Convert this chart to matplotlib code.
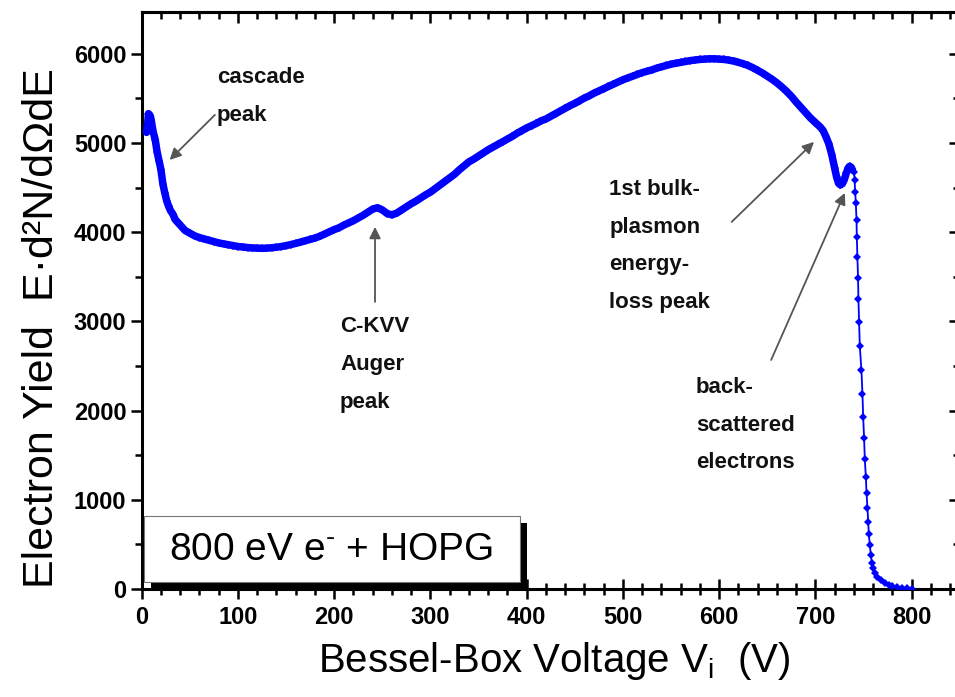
"""
Electron yield spectrum of 800 eV electrons on HOPG measured with the
Bessel-box analyser, with the main spectral features labelled.

Output:
    out.png
"""

import matplotlib

matplotlib.use("Agg")

import matplotlib.pyplot as plt
import numpy as np
from matplotlib.patches import Rectangle
from matplotlib.ticker import MultipleLocator


# Measured spectrum: Bessel-box voltage (V) and yield E*d2N/dOmega dE
VOLTAGE = [
    5, 6, 7, 8, 9, 10, 11, 12, 14, 16, 18, 20, 22, 24, 26, 28, 30, 32, 35,
    40, 45, 50, 55, 60, 65, 70, 75, 80, 85, 90, 95, 100, 105, 110, 115,
    120, 125, 130, 135, 140, 145, 150, 155, 160, 165, 170, 175, 180, 185,
    190, 195, 200, 205, 210, 215, 220, 225, 230, 235, 240, 245, 250, 255,
    260, 265, 270, 275, 280, 285, 290, 295, 300, 305, 310, 315, 320, 325,
    330, 335, 340, 345, 350, 355, 360, 365, 370, 375, 380, 385, 390, 395,
    400, 405, 410, 415, 420, 425, 430, 435, 440, 445, 450, 455, 460, 465,
    470, 475, 480, 485, 490, 495, 500, 505, 510, 515, 520, 525, 530, 535,
    540, 545, 550, 555, 560, 565, 570, 575, 580, 585, 590, 595, 600, 605,
    610, 615, 620, 625, 630, 635, 640, 645, 650, 655, 660, 665, 670, 675,
    680, 685, 690, 695, 700, 705, 708, 711, 714, 717, 720, 722, 724, 726,
    728, 730, 732, 734, 735.5, 737, 738.5,
    740.2, 740.7, 741.3, 742.0, 742.7, 743.0, 743.7, 744.3, 744.7, 745.4,
    746.1, 747.8, 748.9, 749.6, 750.6, 751.3, 752.4, 753.1, 754.1, 754.8,
    755.5, 756.5, 757.6, 758.6, 760.0, 761.7, 764.5, 768, 772, 776, 780,
    785, 790, 795, 800,
]
YIELD = [
    5120, 5200, 5330, 5320, 5300, 5250, 5180, 5120, 5040, 4900, 4800, 4700,
    4540, 4440, 4350, 4290, 4240, 4210, 4140, 4080, 4020, 3990, 3960, 3940,
    3925, 3910, 3895, 3880, 3870, 3860, 3850, 3840, 3835, 3828, 3824, 3822,
    3820, 3822, 3826, 3832, 3840, 3850, 3862, 3875, 3890, 3905, 3920, 3935,
    3955, 3980, 4005, 4030, 4050, 4080, 4105, 4130, 4160, 4190, 4225, 4260,
    4275, 4250, 4210, 4195, 4215, 4250, 4285, 4320, 4350, 4385, 4420, 4450,
    4490, 4530, 4570, 4610, 4650, 4700, 4745, 4790, 4820, 4855, 4890, 4925,
    4955, 4985, 5015, 5045, 5075, 5110, 5140, 5170, 5195, 5220, 5250, 5270,
    5300, 5330, 5360, 5390, 5420, 5445, 5475, 5505, 5530, 5560, 5585, 5610,
    5635, 5660, 5685, 5710, 5730, 5750, 5770, 5790, 5805, 5820, 5840, 5855,
    5870, 5885, 5895, 5905, 5915, 5925, 5932, 5938, 5942, 5945, 5945, 5942,
    5938, 5930, 5920, 5905, 5890, 5870, 5845, 5815, 5785, 5750, 5715, 5675,
    5630, 5580, 5525, 5460, 5400, 5340, 5280, 5230, 5180, 5140, 5070, 4990,
    4870, 4720, 4620, 4550, 4530, 4545, 4590, 4660, 4720, 4740, 4730, 4700,
    4678, 4585, 4454, 4324, 4137, 3950, 3718, 3483, 3248, 2997,
    2728, 2455, 2186, 1932, 1689, 1457, 1259, 1073, 905, 755,
    617, 493, 381, 295, 232, 176, 131, 95, 70, 50, 35,
    22, 12, 6, 3,
]

# Feature labels: text, text anchor (V, yield), arrow tail, arrow head
FEATURE_LABELS = ["cascade\npeak", "C-KVV\nAuger\npeak",
                  "1st bulk-\nplasmon\nenergy-\nloss peak",
                  "back-\nscattered\nelectrons"]
LABEL_ANCHORS = [(78, 5850), (206, 3060), (486, 4600), (576, 2380)]
ARROW_TAILS = [(76, 5316), (242.4, 3219), (613, 4116), (654, 2568)]
ARROW_HEADS = [(29, 4811), (242.4, 4060), (698.5, 5013), (730.5, 4441)]

SAMPLE_LABEL = "800 eV e$^{\u2010}$ + HOPG"

CURVE_COLOR = "#0000ff"
ARROW_COLOR = "#555555"


def setup_fonts() -> None:
    plt.rcParams["font.family"] = ["Liberation Sans", "DejaVu Sans"]
    plt.rcParams["mathtext.fontset"] = "custom"
    plt.rcParams["mathtext.rm"] = "Liberation Sans"
    plt.rcParams["mathtext.it"] = "Liberation Sans:italic"
    plt.rcParams["mathtext.bf"] = "Liberation Sans:bold"


def style_axes(ax) -> None:
    ax.set_xlim(0, 850)
    ax.set_ylim(0, 6470)

    ax.xaxis.set_major_locator(MultipleLocator(100))
    ax.xaxis.set_minor_locator(MultipleLocator(20))
    ax.yaxis.set_major_locator(MultipleLocator(1000))
    ax.yaxis.set_minor_locator(MultipleLocator(500))

    for spine in ax.spines.values():
        spine.set_linewidth(2.2)

    ax.tick_params(top=False, right=False)
    ax.tick_params(axis="x", which="both", direction="inout", width=1.8)
    ax.tick_params(axis="x", which="major", length=14, pad=5)
    ax.tick_params(axis="x", which="minor", length=9)
    ax.tick_params(axis="y", which="both", direction="out", width=1.8)
    ax.tick_params(axis="y", which="major", length=8, pad=3)
    ax.tick_params(axis="y", which="minor", length=5)

    for label in ax.get_xticklabels() + ax.get_yticklabels():
        label.set_fontweight("bold")
        label.set_fontsize(17)

    # inward ticks on the top and right frame
    top = ax.secondary_xaxis("top")
    top.xaxis.set_major_locator(MultipleLocator(100))
    top.xaxis.set_minor_locator(MultipleLocator(20))
    top.tick_params(which="both", direction="in", width=1.8,
                    labeltop=False, labelbottom=False)
    top.tick_params(which="major", length=8)
    top.tick_params(which="minor", length=5)
    top.spines["top"].set_linewidth(2.2)

    right = ax.secondary_yaxis("right")
    right.yaxis.set_major_locator(MultipleLocator(1000))
    right.yaxis.set_minor_locator(MultipleLocator(500))
    right.tick_params(which="both", direction="in", width=1.8,
                      labelright=False, labelleft=False)
    right.tick_params(which="major", length=8)
    right.tick_params(which="minor", length=5)
    right.spines["right"].set_linewidth(2.2)


def draw_spectrum(ax) -> None:
    voltage = np.array(VOLTAGE)
    yields = np.array(YIELD)

    # densely sampled part shows up as a solid band of markers
    dense = voltage <= 740
    ax.plot(voltage[dense], yields[dense], color=CURVE_COLOR,
            linewidth=5.4, solid_capstyle="round", zorder=3)
    ax.plot(voltage, yields, color=CURVE_COLOR, linewidth=1.3,
            marker="D", markersize=4.0, markeredgewidth=0, zorder=4)


def draw_labels(ax) -> None:
    for text, anchor, tail, head in zip(
        FEATURE_LABELS, LABEL_ANCHORS, ARROW_TAILS, ARROW_HEADS
    ):
        ax.text(anchor[0], anchor[1], text, fontsize=16, fontweight="bold",
                ha="left", va="top", linespacing=2.05, color="#111111",
                zorder=5)
        ax.annotate(
            "", xy=head, xytext=tail,
            arrowprops=dict(arrowstyle="-|>", color=ARROW_COLOR, lw=1.3,
                            mutation_scale=17, shrinkA=0, shrinkB=0),
            zorder=5,
        )


def draw_sample_box(ax) -> None:
    shadow = Rectangle((9.5, 0), 391, 740, facecolor="black",
                       edgecolor="none", zorder=5, clip_on=False)
    box = Rectangle((2, 80), 391, 740, facecolor="white",
                    edgecolor="#777777", linewidth=0.8, zorder=6,
                    clip_on=False)
    ax.add_patch(shadow)
    ax.add_patch(box)
    ax.text(197, 440, SAMPLE_LABEL, fontsize=28, ha="center", va="center",
            zorder=7)


def main() -> None:
    setup_fonts()

    fig = plt.figure(figsize=(9.55, 6.97), dpi=100)
    ax = fig.add_axes([0.1484, 0.155, 0.8566, 0.8278])

    style_axes(ax)
    draw_spectrum(ax)
    draw_labels(ax)
    draw_sample_box(ax)

    ax.set_xlabel("Bessel-Box Voltage V$_\\mathregular{i}$  (V)",
                  fontsize=29)
    ax.xaxis.set_label_coords(0.504, -0.088)
    ax.xaxis.label.set_verticalalignment("top")
    ax.set_ylabel("Electron Yield  E\u00b7d\u00b2N/d\u03a9dE", fontsize=31)
    ax.yaxis.set_label_coords(-0.098, 0.452)

    fig.savefig("out.png", dpi=100)
    plt.close(fig)


if __name__ == "__main__":
    main()
